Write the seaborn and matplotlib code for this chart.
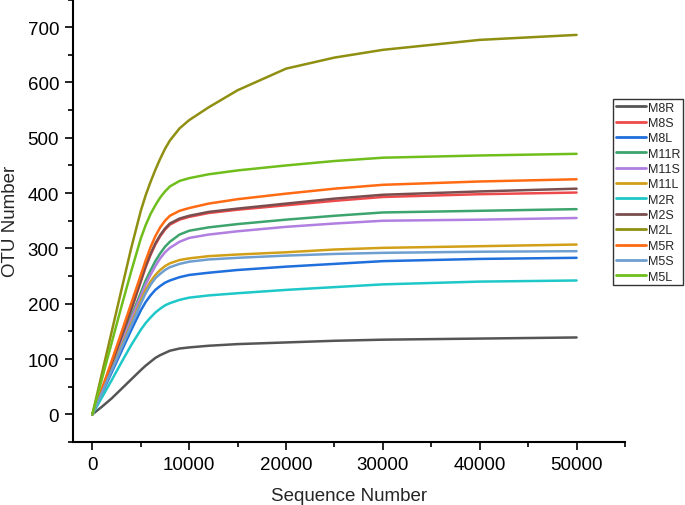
import matplotlib
matplotlib.use("Agg")
import matplotlib.pyplot as plt
from matplotlib.ticker import MultipleLocator
import seaborn as sns
import pandas as pd

seq = [0, 1000, 2000, 3000, 4000, 5000, 5500, 6000, 6500, 7000, 7500, 8000,
       9000, 10000, 12000, 15000, 20000, 25000, 30000, 40000, 50000]

M8R = [0, 14, 29, 46, 63, 80, 88, 95, 102, 107, 111, 115, 119, 121, 124, 127, 130, 133, 135, 137, 139]
M8S = [0, 45, 91, 139, 188, 240, 266, 288, 307, 322, 334, 343, 352, 357, 364, 370, 378, 386, 393, 398, 401]
M8L = [0, 38, 76, 114, 152, 188, 203, 215, 225, 232, 238, 242, 248, 252, 256, 261, 267, 272, 277, 281, 283]
M11R = [0, 44, 88, 132, 176, 220, 242, 260, 277, 291, 303, 312, 325, 332, 338, 344, 352, 359, 365, 368, 371]
M11S = [0, 43, 86, 129, 172, 214, 235, 252, 268, 282, 293, 301, 312, 319, 325, 331, 339, 345, 350, 352, 355]
M11L = [0, 41, 82, 123, 164, 205, 225, 240, 252, 261, 268, 273, 279, 282, 286, 289, 293, 298, 301, 304, 307]
M2R = [0, 31, 62, 94, 125, 153, 165, 175, 184, 191, 197, 201, 207, 211, 215, 219, 225, 230, 235, 240, 242]
M2S = [0, 45, 92, 140, 190, 242, 268, 290, 309, 324, 336, 345, 354, 359, 366, 372, 381, 390, 397, 403, 408]
M2L = [0, 75, 150, 225, 300, 368, 396, 420, 442, 462, 480, 495, 517, 532, 555, 586, 625, 645, 659, 677, 686]
M5R = [0, 47, 97, 148, 200, 252, 278, 302, 322, 338, 350, 359, 368, 373, 381, 389, 399, 408, 415, 421, 425]
M5S = [0, 40, 80, 120, 160, 200, 219, 234, 246, 254, 261, 266, 272, 276, 280, 283, 287, 290, 292, 294, 295]
M5L = [0, 65, 130, 195, 258, 318, 342, 362, 378, 392, 403, 412, 422, 427, 434, 441, 450, 458, 464, 468, 471]

samples = ["M8R", "M8S", "M8L", "M11R", "M11S", "M11L",
           "M2R", "M2S", "M2L", "M5R", "M5S", "M5L"]
series = [M8R, M8S, M8L, M11R, M11S, M11L, M2R, M2S, M2L, M5R, M5S, M5L]
colors = ["#555555", "#ee4a4c", "#1f6fdc", "#3da46e", "#b07fe0", "#d2a018",
          "#1fc8c8", "#7a4e4e", "#8f8f12", "#ff6a12", "#6f9fd0", "#6fbe1c"]

rows = []
for name, vals in zip(samples, series):
    for x, v in zip(seq, vals):
        rows.append({"Sequence Number": x, "OTU Number": v, "Sample": name})
df = pd.DataFrame(rows)

sns.set_theme(style="ticks")
plt.rcParams["font.family"] = ["Liberation Sans", "DejaVu Sans"]

fig = plt.figure(figsize=(6.85, 5.06), dpi=100)
ax = fig.add_axes([0.1066, 0.1245, 0.8058, 0.8745])

sns.lineplot(data=df, x="Sequence Number", y="OTU Number", hue="Sample",
             hue_order=samples, palette=dict(zip(samples, colors)),
             linewidth=1.8, ax=ax, legend=False)

ax.set_xlim(-2000, 55000)
ax.set_ylim(-50, 750)
ax.xaxis.set_major_locator(MultipleLocator(10000))
ax.xaxis.set_minor_locator(MultipleLocator(5000))
ax.yaxis.set_minor_locator(MultipleLocator(50))
ax.set_xticks([0, 10000, 20000, 30000, 40000, 50000])
ax.set_yticks([0, 100, 200, 300, 400, 500, 600, 700])
ax.tick_params(which="major", direction="out", length=6, width=1.2,
               labelsize=13.5, colors="black", pad=4)
ax.tick_params(which="minor", direction="out", length=3.5, width=1.2, colors="black")
for s in ["left", "bottom"]:
    ax.spines[s].set_linewidth(1.5)
    ax.spines[s].set_color("black")
sns.despine(ax=ax)
ax.set_xlabel("Sequence Number", fontsize=13.5, labelpad=10)
ax.set_ylabel("OTU Number", fontsize=13.5, labelpad=6)

handles = [plt.Line2D([], [], color=c, lw=2.0) for c in colors]
leg = fig.legend(handles, samples, loc="upper left",
                 bbox_to_anchor=(613 / 685, 1 - 100 / 506),
                 fontsize=9, frameon=True, fancybox=False, edgecolor="black",
                 handlelength=2.4, handletextpad=0.2, labelspacing=0.27,
                 borderpad=0.2, borderaxespad=0)
leg.get_frame().set_linewidth(1.0)

fig.savefig("out.png", dpi=100)
